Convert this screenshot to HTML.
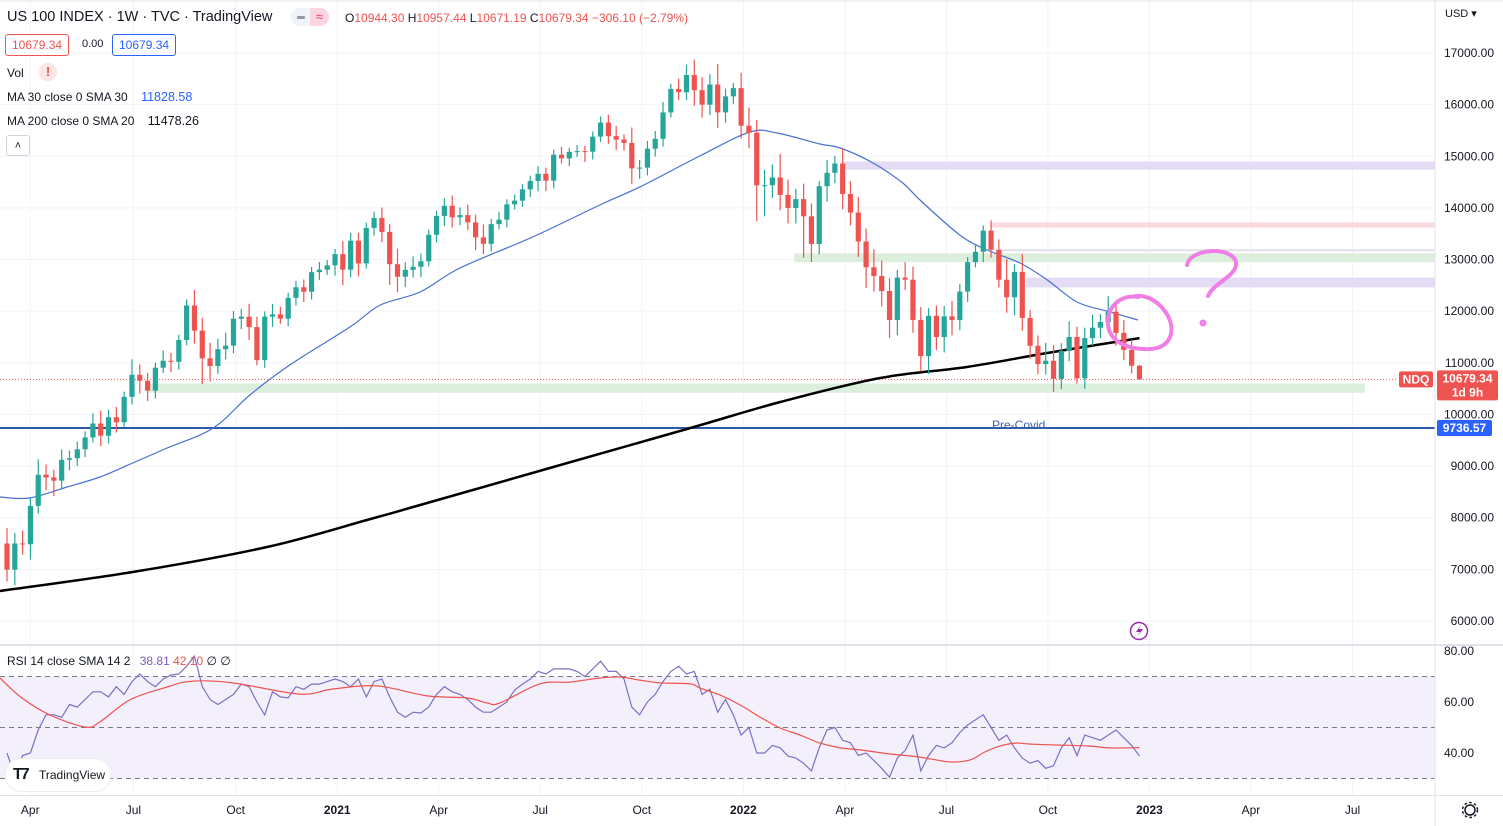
<!DOCTYPE html>
<html><head><meta charset="utf-8"><style>
html,body{margin:0;padding:0;background:#fff;}
body{width:1503px;height:826px;overflow:hidden;position:relative;font-family:"Liberation Sans",sans-serif;color:#131722;}
.abs{position:absolute;white-space:nowrap;}
svg{position:absolute;left:0;top:0;}
</style></head><body>
<svg id="chart" width="1503" height="826"></svg>

<div class="abs" style="left:7px;top:9px;font-size:14.5px;">US 100 INDEX · 1W · TVC · TradingView</div>
<div class="abs" style="left:291px;top:8px;width:38px;height:18px;border-radius:9px;background:#f0f3fa;">
  <span style="position:absolute;left:6px;top:8px;width:8px;height:3px;background:#9598a1;border-radius:1px;"></span>
  <span style="position:absolute;left:19px;top:0;width:19px;height:18px;background:#fbd5e0;border-radius:0 9px 9px 0;color:#f23670;font-size:13px;text-align:center;line-height:18px;">≈</span>
</div>
<div class="abs" style="left:345px;top:11px;font-size:12px;color:#ef5350;"><span style="color:#131722">O</span>10944.30 <span style="color:#131722">H</span>10957.44 <span style="color:#131722">L</span>10671.19 <span style="color:#131722">C</span>10679.34 −306.10 (−2.79%)</div>
<div class="abs" style="left:5px;top:34px;height:20px;padding:0 6px;border:1px solid #ef5350;border-radius:3px;font-size:12px;line-height:20px;color:#ef5350;">10679.34</div>
<div class="abs" style="left:82px;top:38px;font-size:11px;">0.00</div>
<div class="abs" style="left:112px;top:34px;height:20px;padding:0 6px;border:1px solid #2962ff;border-radius:3px;font-size:12px;line-height:20px;color:#2962ff;">10679.34</div>
<div class="abs" style="left:7px;top:66px;font-size:12px;">Vol</div>
<div class="abs" style="left:39px;top:63px;width:18px;height:18px;border-radius:9px;background:#fde4e7;color:#ef5350;font-size:13px;font-weight:bold;text-align:center;line-height:18px;">!</div>
<div class="abs" style="left:7px;top:90px;font-size:12px;">MA 30 close 0 SMA 30 <span style="margin-left:10px;color:#2962ff;font-size:12.5px">11828.58</span></div>
<div class="abs" style="left:7px;top:114px;font-size:12px;">MA 200 close 0 SMA 20 <span style="margin-left:10px;font-size:12.5px">11478.26</span></div>
<div class="abs" style="left:6px;top:135px;width:22px;height:19px;border:1px solid #d1d4dc;border-radius:3px;font-size:11px;text-align:center;line-height:20px;">˄</div>
<div class="abs" style="left:1445px;top:7px;font-size:11px;">USD ▾</div>
<div class="abs" style="left:7px;top:654px;font-size:12px;">RSI 14 close SMA 14 2 <span style="margin-left:6px;color:#7e57c2">38.81</span> <span style="color:#ef5350">42.10</span> ∅ ∅</div>
<div class="abs" style="left:5px;top:758px;width:104px;height:32px;border-radius:16px;background:#fff;border:1px solid #eceef2;">
  <span style="position:absolute;left:7px;top:7px;font-weight:bold;font-size:16px;letter-spacing:-2px;">T7</span>
  <span style="position:absolute;left:33px;top:9px;font-size:12px;">TradingView</span>
</div>
<div class="abs" style="left:992px;top:418px;font-size:12px;color:#3d5fb0;">Pre-Covid</div>

<script>
// ---------- DATA ----------
const closes = [
6994,7502,7487,8230,8832,8780,8718,9121,9152,9325,
9555,9824,9588,9946,9849,10341,10768,10653,10461,10905,
11040,11019,11442,12110,11623,11087,10938,11264,11333,11853,
11894,11692,11052,11895,11938,11855,12258,12464,12377,12756,
12804,12888,13105,12804,13366,12925,13612,13807,13535,12909,
12668,12800,12860,12967,13480,13845,14041,13818,13860,13720,
13429,13305,13686,13773,14069,14141,14360,14522,14661,14528,
15031,14959,15085,15100,15088,15380,15653,15390,15324,15258,
14765,14780,15146,15338,15850,16304,16240,16573,16280,15999,
16390,15850,16160,16320,15592,15456,14437,14440,14590,14252,
14000,14170,13837,13301,14420,14680,14860,14270,13910,13350,
12850,12680,12390,11830,12650,12610,11830,11130,11910,11500,
11900,11830,12380,12950,13150,13560,13190,12610,12270,12760,
11870,11330,10975,11040,10690,11230,11500,10700,11480,11680,
11790,11990,11580,11250,10944.30,10679.34];
const firstOpen = 7500;
const wickUp = [
300,200,250,150,300,200,150,200,150,150,
120,200,250,150,200,100,300,200,150,100,
200,150,100,120,300,250,300,200,250,150,
150,250,200,100,200,150,100,120,150,100,
150,100,100,250,150,150,100,120,200,150,
300,150,200,150,100,100,150,200,150,200,
150,250,100,150,100,120,100,100,150,120,
100,150,80,120,100,100,120,150,200,100,
300,150,150,150,200,100,200,200,300,250,
200,400,150,100,300,350,250,300,250,450,
300,200,300,250,100,250,150,300,250,300,
250,350,300,250,150,300,250,250,150,200,
200,300,150,100,150,100,200,200,400,150,
350,150,200,350,300,150,300,200,200,250,
150,300,200,250,200,13];
const wickDn = [
230,300,200,300,150,250,300,150,200,150,
150,100,200,150,200,100,150,250,200,150,
100,200,150,100,250,500,300,150,200,150,
200,250,100,150,200,100,150,150,200,150,
150,100,200,300,150,250,100,150,200,400,
300,200,150,200,100,150,200,200,150,150,
250,200,150,100,150,100,120,150,200,200,
150,100,150,100,200,150,100,150,200,150,
300,200,150,150,150,100,150,150,300,250,
200,300,200,150,250,300,700,600,250,300,
300,300,800,350,200,300,200,300,250,300,
400,300,300,350,300,200,250,300,350,250,
300,300,200,200,100,200,150,150,300,350,
250,250,200,200,250,200,200,100,200,150,
200,200,250,200,150,8];
const ma30Idx = [-0.9,2.9,7.7,11.9,16.1,20.5,26.4,31.1,36.2,43.9,47.8,52.9,58,67.3,75.9,81,88.7,95.1,98.6,104.1,106.7,110.9,114.7,116.9,122,125.5,129.7,133.2,137,140.8,144.8];
const ma30Val = [8401,8382,8595,8789,9060,9350,9737,10376,10957,11693,12119,12371,12836,13436,14056,14404,15005,15469,15450,15237,15160,14869,14482,14153,13475,13184,12933,12604,12177,12003,11829];
const ma200Idx = [-0.9,16.1,33.3,46.1,52.9,69.5,87.5,99,111.8,122.9,133.2,145];
const ma200Val = [6581,6949,7433,7956,8246,8963,9737,10241,10706,10919,11190,11478];
const rsi = [40,
31,39,40,49,55,55,54,59,58,61,
64,64,62,66,63,68,71,68,66,69,
70.6,71,74,78,66,61,59,61,63,67,
66,60,55,64,62,61.6,66,65,67,67,
68,69,68,66,69,62,68,69,62,56,
54,56,55.7,58,63,66,64,63,61,58,
56,56,58,60,64.7,67,69,72,71,73,
73,73,72,70,73,76,72,72,69,58,
55,60,63,68,72,74,71,72,63,65,
56,61,55,47,50,40,40,43,42,38.8,
38,36,33,42,49,50,45,44,39,40,
37,34,30.5,38,41,47,33,39,43,42,
44,48,51,53,55,50,45,47,42,38,
36,37,34,35,42,46,39,47,46,45,
47,49,46,43,38.81];
const rsiSmaIdx = [-0.9,1.9,5.5,10,11.9,15.7,20.5,23.8,28.9,37.5,41.7,47.4,53.8,58.9,61.5,63.1,68.2,72.1,75.9,78.5,81,83.6,87.5,88.7,91.3,93.9,96.4,99,101.5,104.1,106.7,109.2,113.1,116.9,120.7,123.3,125.2,127.1,129.1,131,134.8,138.7,141.2,145];
const rsiSmaVal = [69.4,61.6,54.9,50.2,52.2,60.8,65.9,68.2,67.5,63.1,65.1,66.3,62.4,61.6,59.6,59.6,67.1,67.8,69.4,69.8,68.6,67.5,67.1,65.5,62.7,58.8,54.1,49.8,47.1,43.9,42,41.2,39.6,38.4,36.5,37.3,40.4,42.7,43.9,43.5,43.1,42.7,42,42.1];
const priceTicks = [17000,16000,15000,14000,13000,12000,11000,10000,9000,8000,7000,6000];
const rsiTicks = [80,60,40];
const timeLabels = ["Apr","Jul","Oct","2021","Apr","Jul","Oct","2022","Apr","Jul","Oct","2023","Apr","Jul"];
const timeLabelIdx = [1.7,14.9,28,41,54,67,80,93,106,119,132,145,158,171];
const zones = [ // [startIdx, loPrice, hiPrice, kind]
 [107,14740,14900,"purple"],[125.9,13620,13720,"pink"],[100.8,12950,13120,"green"],[130.5,12460,12650,"purple"],[18,10420,10600,"green"]];
const lastPrice = 10679.34, preCovid = 9736.57;

// ---------- SCALES ----------
const X0=7, DX=7.81, RIGHT=1435;
const xOf = i => X0 + i*DX;
const yP = p => 621 - (p-6000)*0.051636;
const yR = v => 651 + (80-v)*2.55;

const svg = document.getElementById('chart');
const NS='http://www.w3.org/2000/svg';
function mk(tag, attrs, parent){const e=document.createElementNS(NS,tag);for(const k in attrs)e.setAttribute(k,attrs[k]);(parent||svg).appendChild(e);return e;}

// grid
const grid = mk('g',{});


priceTicks.forEach(p=>mk('line',{x1:0,x2:RIGHT,y1:yP(p),y2:yP(p),stroke:'#f0f3fa'},grid));
[70,60,50,40].forEach(v=>mk('line',{x1:0,x2:RIGHT,y1:yR(v),y2:yR(v),stroke:'#f0f3fa'},grid));
timeLabelIdx.forEach(i=>{const x=xOf(i)+10;if(x<RIGHT)mk('line',{x1:x,x2:x,y1:0,y2:795,stroke:'#f0f3fa'},grid);});

// zones
const zc={purple:'#e3dcf4',pink:'#fbd9dd',green:'#dcefdc'};
zones.forEach(z=>{
  const endX = z[0]<50 ? 1365 : RIGHT;
  const r=mk('rect',{x:xOf(z[0]),y:yP(z[2]),width:endX-xOf(z[0]),height:yP(z[1])-yP(z[2]),fill:zc[z[3]]});
  
  
});
const gl=mk('line',{x1:xOf(127),x2:RIGHT,y1:yP(13180),y2:yP(13180),stroke:'#e0e0ea','stroke-width':2});



// pre-covid line
const pc=mk('line',{x1:0,x2:RIGHT,y1:yP(preCovid),y2:yP(preCovid),stroke:'#2a5caa','stroke-width':2});


// last price dotted
const lp=mk('line',{x1:0,x2:1398,y1:yP(lastPrice),y2:yP(lastPrice),stroke:'#ef5350','stroke-dasharray':'1,2'});



// RSI background
const rb=mk('rect',{x:0,y:yR(70),width:RIGHT,height:yR(30)-yR(70),fill:'#f3f0fb'});


[70,50,30].forEach(v=>{const l=mk('line',{x1:0,x2:RIGHT,y1:yR(v),y2:yR(v),stroke:'#787b86','stroke-dasharray':'5,4'});
  
  });

// lines helpers
function linePath(idx,val,ys){return idx.map((i,k)=>(k?'L':'M')+xOf(i).toFixed(1)+','+ys(val[k]).toFixed(1)).join('');}
function smoothPath(idx,val,ys){
  const p=idx.map((i,k)=>[xOf(i),ys(val[k])]);
  let d='M'+p[0][0].toFixed(1)+','+p[0][1].toFixed(1);
  for(let k=0;k<p.length-1;k++){
    const p0=p[k-1]||p[k],p1=p[k],p2=p[k+1],p3=p[k+2]||p[k+1];
    const c1=[p1[0]+(p2[0]-p0[0])/6,p1[1]+(p2[1]-p0[1])/6];
    const c2=[p2[0]-(p3[0]-p1[0])/6,p2[1]-(p3[1]-p1[1])/6];
    d+='C'+c1.map(v=>v.toFixed(1)).join(',')+' '+c2.map(v=>v.toFixed(1)).join(',')+' '+p2.map(v=>v.toFixed(1)).join(',');
  }
  return d;
}
const m200=mk('path',{d:smoothPath(ma200Idx,ma200Val,yP),fill:'none',stroke:'#000','stroke-width':2.5});


const m30=mk('path',{d:smoothPath(ma30Idx,ma30Val,yP),fill:'none',stroke:'#4a6fd0','stroke-width':1.2});



// candles
const cg=mk('g',{});


closes.forEach((c,i)=>{
  const o = i===0?firstOpen:closes[i-1];
  const up = c>=o, col = up?'#26a69a':'#ef5350';
  const hi = Math.max(o,c)+wickUp[i], lo = Math.min(o,c)-wickDn[i];
  const x = xOf(i);
  const g=mk('g',{},cg);
  
  
  mk('line',{x1:x,x2:x,y1:yP(hi),y2:yP(lo),stroke:col,'stroke-width':1.2},g);
  const yt=yP(Math.max(o,c)), yb=yP(Math.min(o,c));
  mk('rect',{x:x-2.6,y:yt,width:5.2,height:Math.max(1,yb-yt),fill:col},g);
});

// RSI lines
const rsiIdx = rsi.map((v,i)=>i);
const rl=mk('path',{d:linePath(rsiIdx,rsi,yR),fill:'none',stroke:'#7e6fc2','stroke-width':1.2});


const rs=mk('path',{d:smoothPath(rsiSmaIdx,rsiSmaVal,yR),fill:'none',stroke:'#ef5350','stroke-width':1.2});



// drawings (hand annotations)
const dr=mk('g',{fill:'none',stroke:'#f07ee6','stroke-width':4,'stroke-linecap':'round'});


mk('path',{d:'M1138,297 C1120,294 1106,308 1108,325 C1110,342 1128,350 1150,349 C1170,348 1176,332 1168,316 C1160,302 1148,295 1136,296'},dr);
mk('path',{d:'M1187,265 C1190,248 1232,246 1236,262 C1238,276 1214,282 1208,296'},dr);
mk('circle',{cx:1203,cy:323,r:1.5},dr);

// separators & axes
[['line',{x1:RIGHT,x2:RIGHT,y1:0,y2:826,stroke:'#e0e3eb'}],['line',{x1:0,x2:1503,y1:645,y2:645,stroke:'#e0e3eb','stroke-width':2}],
 ['line',{x1:0,x2:1503,y1:795.5,y2:795.5,stroke:'#e0e3eb'}],['line',{x1:0,x2:1503,y1:1,y2:1,stroke:'#e0e3eb'}]].forEach(a=>{const e=mk(a[0],a[1]);
  
  });

const ax=mk('g',{'font-family':'Liberation Sans, sans-serif','font-size':12,fill:'#131722'});


priceTicks.forEach(p=>{const t=mk('text',{x:1494,y:yP(p)+4,'text-anchor':'end'},ax);t.textContent=p.toFixed(2);
  
  });
rsiTicks.forEach(v=>{const t=mk('text',{x:1474,y:yR(v)+4,'text-anchor':'end'},ax);t.textContent=v.toFixed(2);
  
  });
timeLabels.forEach((s,k)=>{const x=xOf(timeLabelIdx[k])+10;if(x>RIGHT)return;const t=mk('text',{x:x,y:814,'text-anchor':'middle','font-weight':/^\d/.test(s)?'bold':'normal'},ax);t.textContent=s;
  
  });

// price labels
function tag(x,y,w,h,fill,lines,name){const g=mk('g',{});
  
  
  mk('rect',{x:x,y:y,width:w,height:h,fill:fill,rx:2},g);
  lines.forEach((s,k)=>{const t=mk('text',{x:x+w/2,y:y+12+k*14,'text-anchor':'middle',fill:'#fff','font-size':12,'font-weight':'bold','font-family':'Liberation Sans, sans-serif'},g);t.textContent=s;});}
tag(1399,yP(lastPrice)-8,34,16,'#ef5350',['NDQ'],'ndq-tag');
tag(1437,yP(lastPrice)-9,61,30,'#ef5350',[lastPrice.toFixed(2),'1d 9h'],'last-price-tag');
tag(1437,yP(preCovid)-8,55,16,'#2962ff',[preCovid.toFixed(2)],'pre-covid-tag');

// lightning icon
const li=mk('g',{});


mk('circle',{cx:1139,cy:631,r:8.5,fill:'#fff',stroke:'#9c27b0','stroke-width':1.5},li);
mk('path',{d:'M1141,625 L1136,632 L1140,632 L1137,637 L1143,629 L1139,629 Z',fill:'#9c27b0'},li);
// gear
const gr=mk('g',{});


mk('circle',{cx:1470,cy:810,r:5,fill:'none',stroke:'#131722','stroke-width':1.5},gr);
mk('circle',{cx:1470,cy:810,r:7.5,fill:'none',stroke:'#131722','stroke-width':1.5,'stroke-dasharray':'2.5,2.4'},gr);
</script>
</body></html>
